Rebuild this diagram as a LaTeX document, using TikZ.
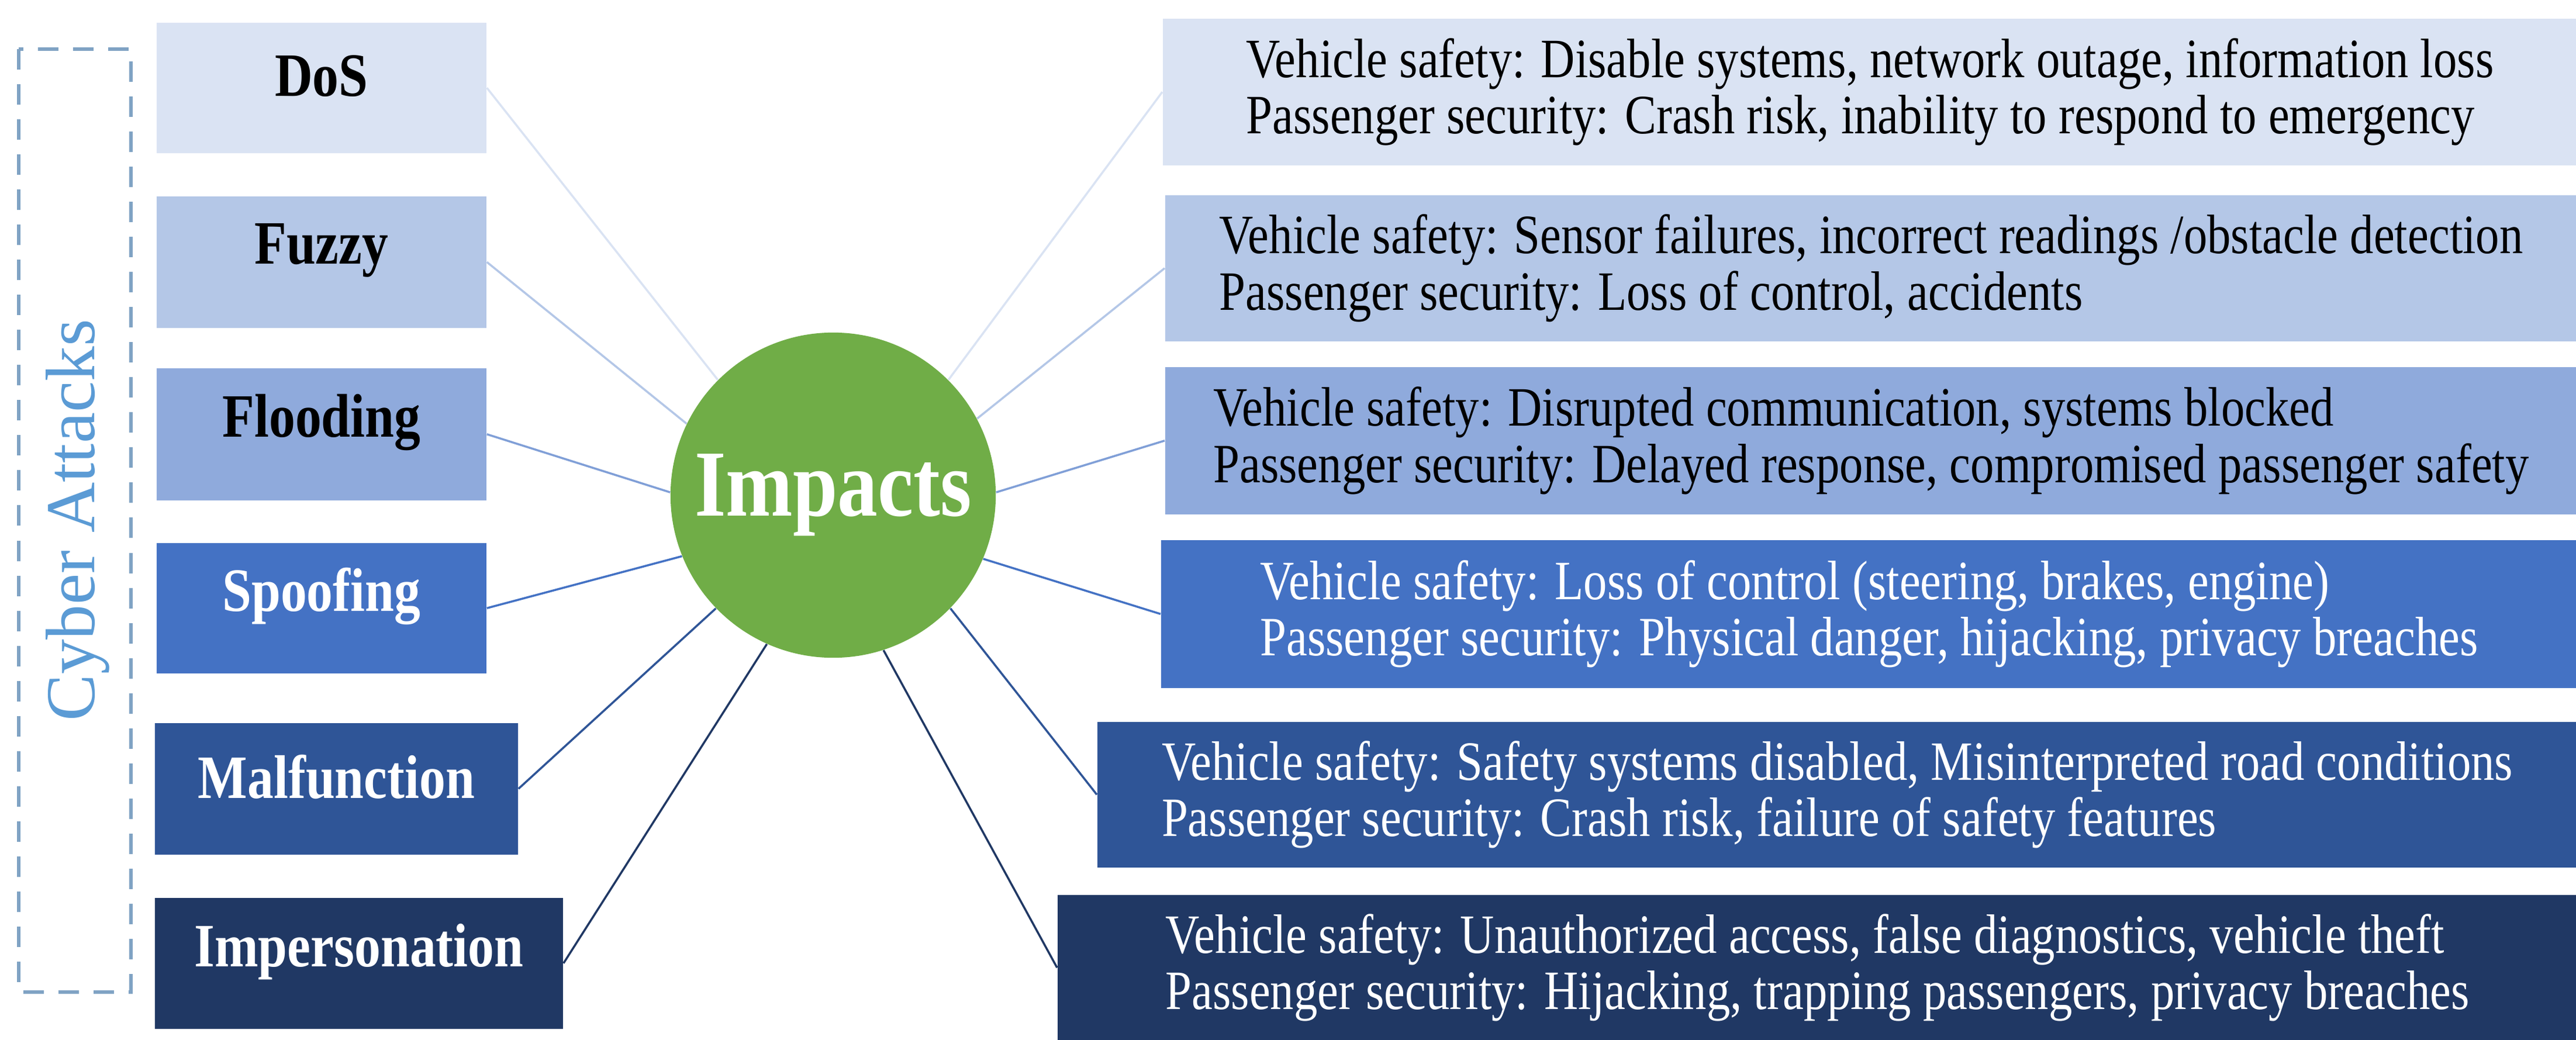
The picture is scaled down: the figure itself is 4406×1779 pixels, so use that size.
\documentclass[tikz,border=0pt]{standalone}
\usepackage{fontspec}
\setmainfont[FakeStretch=0.85]{Liberation Serif}
\newfontfamily\plainserif{Liberation Serif}
\definecolor{c1}{HTML}{DAE3F3}
\definecolor{c2}{HTML}{B4C7E7}
\definecolor{c3}{HTML}{8FAADC}
\definecolor{c4}{HTML}{4472C4}
\definecolor{c5}{HTML}{2F5597}
\definecolor{c6}{HTML}{203864}
\definecolor{grn}{HTML}{70AD47}
\definecolor{lb}{HTML}{5B9BD5}
\begin{document}
\begin{tikzpicture}[x=0.01cm,y=-0.01cm,
  att/.style={draw=none,anchor=north west,inner sep=0pt,font=\fontsize{30}{30}\selectfont\bfseries},
  imp/.style={draw=none,anchor=north west,inner sep=0pt,inner xsep=0.6cm,align=left,font=\fontsize{27}{27.5}\selectfont},
  ln/.style={line width=1pt}]
\useasboundingbox (0,0) rectangle (4406,1779);
\draw[lb!80!black!70,dashed,dash pattern=on 0.35cm off 0.25cm,line width=1.6pt] (32,84) rectangle (224,1697);
\node[rotate=90,text=lb,font=\plainserif\fontsize{34}{34}\selectfont] (ca) at (133,890) {Cyber Attacks};
% attack boxes
\node[att,fill=c1,minimum width=5.64cm,minimum height=2.23cm] (a1) at (267,38) {};
\node[att] at (a1.center) [anchor=center,yshift=0.2cm] {DoS};
\node[att,fill=c2,minimum width=5.64cm,minimum height=2.25cm] (a2) at (267,335) {};
\node[att] at (a2.center) [anchor=center,yshift=0.2cm] {Fuzzy};
\node[att,fill=c3,minimum width=5.64cm,minimum height=2.26cm] (a3) at (267,629) {};
\node[att] at (a3.center) [anchor=center,yshift=0.2cm] {Flooding};
\node[att,fill=c4,minimum width=5.64cm,minimum height=2.23cm] (a4) at (267,928) {};
\node[att,text=white] at (a4.center) [anchor=center,yshift=0.2cm] {Spoofing};
\node[att,fill=c5,minimum width=6.21cm,minimum height=2.25cm] (a5) at (264,1236) {};
\node[att,text=white] at (a5.center) [anchor=center,yshift=0.2cm] {Malfunction};
\node[att,fill=c6,minimum width=6.98cm,minimum height=2.24cm] (a6) at (264,1535) {};
\node[att,text=white] at (a6.center) [anchor=center,yshift=0.2cm] {Impersonation};
% center
\node[circle,fill=grn,minimum size=5.56cm,inner sep=0pt,text=white,font=\fontsize{46}{46}\selectfont\bfseries] (c) at (1425,847) {Impacts};
% impact boxes
\node[imp,fill=c1,minimum width=24.18cm,minimum height=2.51cm] (b1) at (1988,31)
 {Vehicle safety: Disable systems, network outage, information loss\\Passenger security: Crash risk, inability to respond to emergency};
\node[imp,fill=c2,minimum width=24.14cm,minimum height=2.50cm] (b2) at (1992,333)
 {Vehicle safety: Sensor failures, incorrect readings /obstacle detection\\Passenger security: Loss of control, accidents};
\node[imp,fill=c3,minimum width=24.14cm,minimum height=2.52cm] (b3) at (1992,627)
 {Vehicle safety: Disrupted communication, systems blocked\\Passenger security: Delayed response, compromised passenger safety};
\node[imp,fill=c4,text=white,minimum width=24.21cm,minimum height=2.53cm] (b4) at (1985,923)
 {Vehicle safety: Loss of control (steering, brakes, engine)\\Passenger security: Physical danger, hijacking, privacy breaches};
\node[imp,fill=c5,text=white,minimum width=25.30cm,minimum height=2.49cm] (b5) at (1876,1234)
 {Vehicle safety: Safety systems disabled, Misinterpreted road conditions\\Passenger security: Crash risk, failure of safety features};
\node[imp,fill=c6,text=white,minimum width=25.98cm,minimum height=2.49cm] (b6) at (1808,1530)
 {Vehicle safety: Unauthorized access, false diagnostics, vehicle theft\\Passenger security: Hijacking, trapping passengers, privacy breaches};
% connectors
\draw[ln,c1] (a1.east) -- (c.135);
\draw[ln,c2] (a2.east) -- (c.154);
\draw[ln,c3!80!c4] (a3.east) -- (c.179);
\draw[ln,c4] (a4.east) -- (c.202);
\draw[ln,c5] (a5.east) -- (c.224);
\draw[ln,c6] (a6.east) -- (c.246);
\draw[ln,c1] (b1.west) -- (c.45);
\draw[ln,c2] (b2.west) -- (c.28);
\draw[ln,c3!80!c4] (b3.west) -- (c.1);
\draw[ln,c4] (b4.west) -- (c.337);
\draw[ln,c5] (b5.west) -- (c.316);
\draw[ln,c6] (b6.west) -- (c.288);
\end{tikzpicture}
\end{document}
